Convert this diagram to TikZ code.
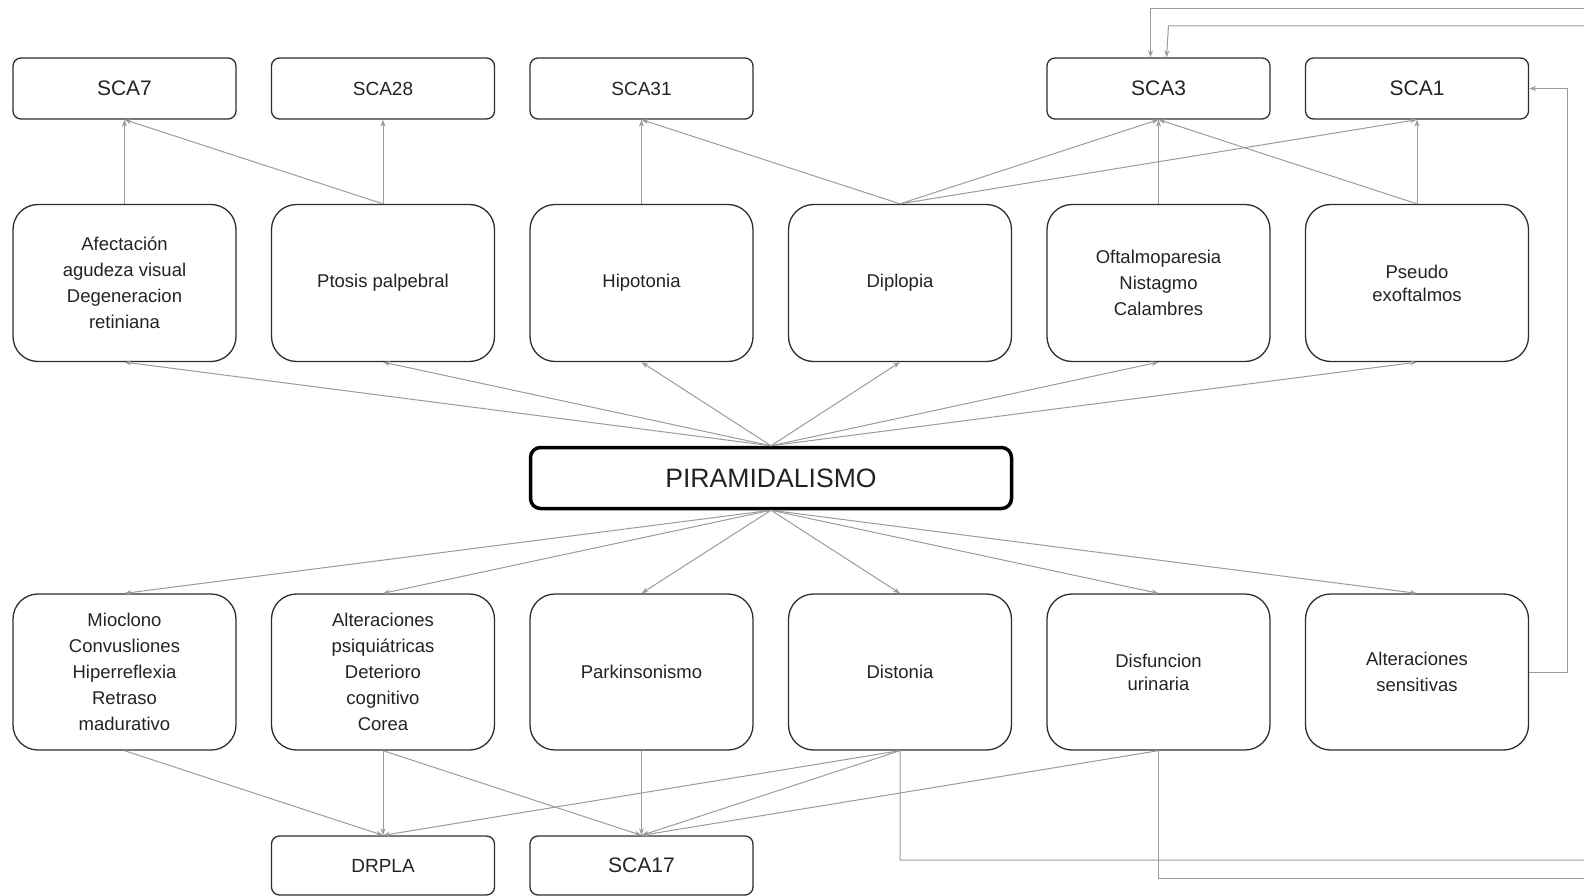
\documentclass[tikz,border=0pt]{standalone}
\usepackage{fontspec}
\setmainfont{Liberation Sans}
\usetikzlibrary{arrows.meta}
\definecolor{boxline}{RGB}{45,45,45}
\definecolor{connline}{RGB}{155,155,155}
\definecolor{txt}{RGB}{35,35,35}
\tikzset{
  sbox/.style={draw=boxline, line width=1.3pt, rounded corners=8pt, minimum width=223pt, minimum height=61pt, inner sep=0pt, text=txt, align=center},
  bbox/.style={draw=boxline, line width=1.3pt, rounded corners=25pt, minimum width=223pt, minimum height=157pt, inner sep=0pt, text=txt, align=center, font=\fontsize{18.5}{26}\selectfont},
  pbox/.style={draw=black, line width=3.5pt, rounded corners=10pt, minimum width=481pt, minimum height=61pt, inner sep=0pt, text=txt, font=\fontsize{26.6}{30}\selectfont},
  big/.style={font=\fontsize{21}{24}\selectfont},
  small/.style={font=\fontsize{19}{22}\selectfont},
  conn/.style={draw=connline, line width=1pt, -{Stealth[length=7pt,width=5pt]}}
}
\begin{document}
\begin{tikzpicture}[x=1pt,y=-1pt]
\useasboundingbox (0,0) rectangle (1584,896);
% top row
\node[sbox,big]   (sca7)  at (124.5,88.5) {SCA7};
\node[sbox,small] (sca28) at (383,88.5) {SCA28};
\node[sbox,small] (sca31) at (641.5,88.5) {SCA31};
\node[sbox,big]   (sca3)  at (1158.5,88.5) {SCA3};
\node[sbox,big]   (sca1)  at (1417,88.5) {SCA1};
% second row
\node[bbox] (afec) at (124.5,283) {Afectación\\agudeza visual\\Degeneracion\\retiniana};
\node[bbox] (ptos) at (383,283) {Ptosis palpebral};
\node[bbox] (hipo) at (641.5,283) {Hipotonia};
\node[bbox] (dipl) at (900,283) {Diplopia};
\node[bbox] (ofta) at (1158.5,283) {Oftalmoparesia\\Nistagmo\\Calambres};
\node[bbox,font=\fontsize{18.5}{23}\selectfont] (pseu) at (1417,283) {Pseudo\\exoftalmos};
% center
\node[pbox] (pir) at (771,478) {PIRAMIDALISMO};
% third row
\node[bbox,minimum height=156pt] (mioc) at (124.5,672) {Mioclono\\Convusliones\\Hiperreflexia\\Retraso\\madurativo};
\node[bbox,minimum height=156pt] (alps) at (383,672) {Alteraciones\\psiquiátricas\\Deterioro\\cognitivo\\Corea};
\node[bbox,minimum height=156pt] (park) at (641.5,672) {Parkinsonismo};
\node[bbox,minimum height=156pt] (dist) at (900,672) {Distonia};
\node[bbox,minimum height=156pt,font=\fontsize{18.5}{23}\selectfont] (disf) at (1158.5,672) {Disfuncion\\urinaria};
\node[bbox,minimum height=156pt] (sens) at (1417,672) {Alteraciones\\sensitivas};
% bottom row
\node[sbox,small,minimum height=59pt] (drpla) at (383,865.5) {DRPLA};
\node[sbox,big,minimum height=59pt]   (sca17) at (641.5,865.5) {SCA17};
% top connectors
\draw[conn] (afec.north) -- (sca7.south);
\draw[conn] (ptos.north) -- (sca7.south);
\draw[conn] (ptos.north) -- (sca28.south);
\draw[conn] (hipo.north) -- (sca31.south);
\draw[conn] (dipl.north) -- (sca31.south);
\draw[conn] (dipl.north) -- (sca3.south);
\draw[conn] (dipl.north) -- (sca1.south);
\draw[conn] (ofta.north) -- (sca3.south);
\draw[conn] (pseu.north) -- (sca3.south);
\draw[conn] (pseu.north) -- (sca1.south);
% from center up
\foreach \n in {afec,ptos,hipo,dipl,ofta,pseu} \draw[conn] (pir.north) -- (\n.south);
% from center down
\foreach \n in {mioc,alps,park,dist,disf,sens} \draw[conn] (pir.south) -- (\n.north);
% bottom connectors
\draw[conn] (mioc.south) -- (drpla.north);
\draw[conn] (alps.south) -- (drpla.north);
\draw[conn] (alps.south) -- (sca17.north);
\draw[conn] (park.south) -- (sca17.north);
\draw[conn] (dist.south) -- (drpla.north);
\draw[conn] (dist.south) -- (sca17.north);
\draw[conn] (disf.south) -- (sca17.north);
% routed connectors
\coordinate (d1) at (900,860);
\coordinate (d2) at (1600,860);
\coordinate (d3) at (1600,26);
\coordinate (d4) at (1168.5,26);
\draw[conn] (dist.south) -- (d1) -- (d2) -- (d3) -- (d4) -- ([xshift=8pt]sca3.north);
\coordinate (f1) at (1158.5,878);
\coordinate (f2) at (1615,878);
\coordinate (f3) at (1615,9);
\coordinate (f4) at (1150.5,9);
\draw[conn] (disf.south) -- (f1) -- (f2) -- (f3) -- (f4) -- ([xshift=-8pt]sca3.north);
\coordinate (s1) at (1567,672);
\coordinate (s2) at (1567,88.5);
\draw[conn] (sens.east) -- (s1) -- (s2) -- (sca1.east);
\end{tikzpicture}
\end{document}
